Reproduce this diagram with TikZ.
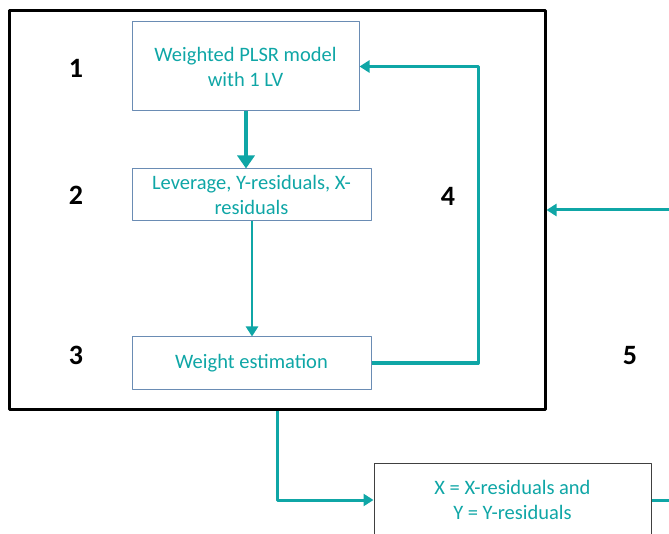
\documentclass[tikz,border=0pt]{standalone}
\usepackage{fontspec}
\setmainfont{Carlito}
\usetikzlibrary{arrows.meta}
\definecolor{tealc}{HTML}{0FA6A6}
\definecolor{boxc}{HTML}{6A8CB4}
\begin{document}
\begin{tikzpicture}[x=1pt, y=-1pt, line join=round, >={Triangle[length=10pt,width=12pt]},
    font=\fontsize{20.5}{25}\selectfont,
    stepbox/.style={draw=boxc, line width=1pt, text=tealc, align=center, inner sep=0pt},
    num/.style={font=\fontsize{28}{30}\selectfont\bfseries, inner sep=0pt},
    flow/.style={draw=tealc, line width=3pt}]
    \useasboundingbox (0,0) rectangle (669,534);
    \clip (0,0) rectangle (669,534);
    \node[draw=black, line width=3pt, minimum width=536, minimum height=398] (loop) at (277,210) {};
    \node[stepbox, minimum width=227, minimum height=89] (wplsr) at (245.5,66.5) {Weighted PLSR model\\with 1 LV};
    \node[stepbox, minimum width=239, minimum height=52] (lev) at (251.5,195) {Leverage, Y-residuals, X-\\residuals};
    \node[stepbox, minimum width=239, minimum height=52] (west) at (251.5,363) {Weight estimation};
    \node[stepbox, draw=black!75, minimum width=277, minimum height=74] (resid) at (512.5,500) {X = X-residuals and\\Y = Y-residuals};
    \node[num] (n1) at (76,68) {1};
    \node[num] (n2) at (76,195) {2};
    \node[num] (n3) at (76,355) {3};
    \node[num] (n4) at (448,196) {4};
    \node[num] (n5) at (630,356) {5};
    %\node[num] (n6) at (630,500) {6};
    \coordinate (back) at (478,363);
    \coordinate (rdown) at (690,500);
    \coordinate (rup) at (690,210);
    \draw[flow, line width=4.5pt, -{Triangle[length=13pt,width=17pt]}] (wplsr.south -| 246,0) -- (lev.north -| 246,0);
    \draw[flow, line width=2.5pt, ->] (lev.south -| 252,0) -- (west.north -| 252,0);
    \draw[flow, ->] (west.east) -- (back) |- (wplsr.east);
    \draw[flow, ->] (loop.south) |- (resid.west);
    \draw[flow, ->] (resid.east) -- (rdown) -- (rup) -- (loop.east);
\end{tikzpicture}
\end{document}
